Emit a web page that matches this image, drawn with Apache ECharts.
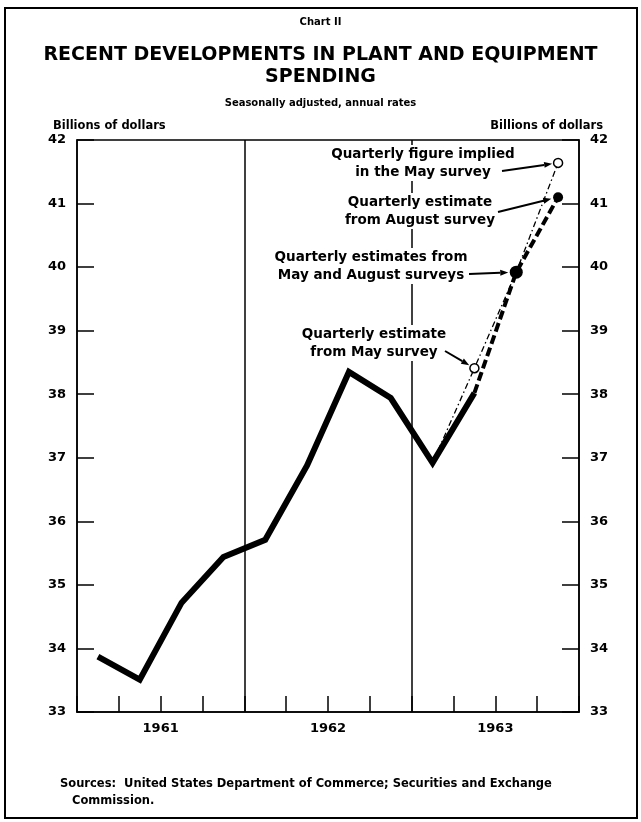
<!DOCTYPE html>
<html>
<head>
<meta charset="utf-8">
<script src="https://cdn.jsdelivr.net/npm/echarts@6/dist/echarts.min.js"></script>
<style>
  html, body { margin: 0; padding: 0; background: #fff; }
  #chart { width: 641px; height: 822px; }
</style>
</head>
<body>
<div id="chart"></div>
<script>
// quarterly points, 1961 Q1 .. 1963 Q4
const quarters = ['1961 Q1', '1961 Q2', '1961 Q3', '1961 Q4',
  '1962 Q1', '1962 Q2', '1962 Q3', '1962 Q4',
  '1963 Q1', '1963 Q2', '1963 Q3', '1963 Q4']
const years = ['1961', '1962', '1963']
const actual = [33.87, 33.51, 34.72, 35.44, 35.71, 36.88, 38.35, 37.94, 36.92, 38.02, null, null]
const augustSurvey = [null, null, null, null, null, null, null, null, null, 38.02, 39.92, 41.10]
const maySurvey = [null, null, null, null, null, null, null, null, 36.92, 38.41, 39.92, 41.64]
const yMin = 33
const yMax = 42

const font = '"DejaVu Sans", Verdana, sans-serif'

const chart = echarts.init(document.getElementById('chart'))

// value on the x axis = middle of the quarter
const toPoints = (arr) => arr.map((v, i) => (v == null ? null : [i + 0.5, v]))

const solidData = toPoints(actual).filter(Boolean)

const augustData = toPoints(augustSurvey).filter(Boolean).map((p, i, all) => {
  if (i === 0) return { value: p, symbol: 'none' }
  if (i === all.length - 1) return { value: p, symbol: 'circle', symbolSize: 10 }
  return { value: p, symbol: 'circle', symbolSize: 13 }
})

const mayData = toPoints(maySurvey).filter(Boolean).map((p, i) => {
  if (i === 0 || i === 2) return { value: p, symbol: 'none' }
  return { value: p, symbol: 'circle', symbolSize: 9, itemStyle: { color: '#fff', borderColor: '#000', borderWidth: 1.5 } }
})

const yAxisBase = {
  type: 'value',
  min: yMin,
  max: yMax,
  interval: 1,
  axisLine: { show: true, lineStyle: { color: '#000', width: 1.5 } },
  axisTick: { show: true, inside: true, length: 17, lineStyle: { color: '#000', width: 1.5 } },
  axisLabel: { color: '#000', fontFamily: font, fontWeight: 'bold', fontSize: 13, margin: 11 },
  splitLine: { show: false },
}

const option = {
  animation: false,
  backgroundColor: '#fff',
  title: [
    { text: 'Chart II', left: 'center', top: 12, textStyle: { fontFamily: font, fontWeight: 'bold', fontSize: 10, color: '#000' } },
    {
      text: 'RECENT DEVELOPMENTS IN PLANT AND EQUIPMENT\nSPENDING', left: 'center', top: 39,
      textStyle: { fontFamily: font, fontWeight: 'bold', fontSize: 19, lineHeight: 22, color: '#000' }
    },
    { text: 'Seasonally adjusted, annual rates', left: 'center', top: 93, textStyle: { fontFamily: font, fontWeight: 'bold', fontSize: 10, color: '#000' } },
    { text: 'Billions of dollars', left: 48, top: 115, textStyle: { fontFamily: font, fontWeight: 'bold', fontSize: 11.5, color: '#000' } },
    { text: 'Billions of dollars', right: 33, top: 115, textStyle: { fontFamily: font, fontWeight: 'bold', fontSize: 11.5, color: '#000' } },
    {
      text: 'Sources:  United States Department of Commerce; Securities and Exchange\n   Commission.', left: 55, top: 771,
      textStyle: { fontFamily: font, fontWeight: 'bold', fontSize: 11.5, lineHeight: 17, color: '#000' }
    },
  ],
  grid: {
    left: 77, right: 62, top: 140, bottom: 110,
    show: true, borderColor: '#000', borderWidth: 1.5, backgroundColor: 'transparent'
  },
  xAxis: {
    type: 'value',
    min: 0,
    max: quarters.length,
    interval: 1,
    axisLine: { show: true, lineStyle: { color: '#000', width: 1.5 } },
    axisTick: { show: true, inside: true, length: 16, lineStyle: { color: '#000', width: 1.5 } },
    axisLabel: {
      color: '#000', fontFamily: font, fontWeight: 'bold', fontSize: 13, margin: 10,
      formatter: (v) => (v % 4 === 2 ? years[(v - 2) / 4] : '')
    },
    splitLine: { show: false },
  },
  yAxis: [
    Object.assign({}, yAxisBase, { position: 'left' }),
    Object.assign({}, yAxisBase, { position: 'right' }),
  ],
  series: [
    {
      name: 'actual',
      type: 'line',
      data: solidData,
      symbol: 'none',
      lineStyle: { color: '#000', width: 6, join: 'miter', cap: 'butt' },
      z: 3,
      markLine: {
        silent: true,
        symbol: ['none', 'none'],
        label: { show: false },
        lineStyle: { color: '#000', width: 1.5, type: 'solid' },
        data: [{ xAxis: 4 }, { xAxis: 8 }],
      },
    },
    {
      name: 'August survey',
      type: 'line',
      data: augustData,
      lineStyle: { color: '#000', width: 4, type: [9, 4], cap: 'butt' },
      itemStyle: { color: '#000' },
      z: 4,
    },
    {
      name: 'May survey',
      type: 'line',
      data: mayData,
      lineStyle: { color: '#000', width: 1.3, type: [6, 3, 1.5, 3] },
      itemStyle: { color: '#000' },
      z: 5,
    },
  ],
}
chart.setOption(option)

// notes with arrows pointing at the survey points
const notes = [
  { text: 'Quarterly figure implied\nin the May survey', x: 423, y: 145, from: [502, 171], series: maySurvey, idx: 11, gap: 6 },
  { text: 'Quarterly estimate\nfrom August survey', x: 420, y: 193, from: [498, 212], series: augustSurvey, idx: 11, gap: 7 },
  { text: 'Quarterly estimates from\nMay and August surveys', x: 371, y: 248, from: [469, 274], series: augustSurvey, idx: 10, gap: 8 },
  { text: 'Quarterly estimate\nfrom May survey', x: 374, y: 325, from: [445, 351], series: maySurvey, idx: 9, gap: 6 },
]

const graphics = [
  { type: 'rect', shape: { x: 5, y: 8, width: 632, height: 810 }, style: { fill: 'none', stroke: '#000', lineWidth: 2 }, z: 10 },
]
notes.forEach((n) => {
  const to = chart.convertToPixel({ gridIndex: 0 }, [n.idx + 0.5, n.series[n.idx]])
  const dx = to[0] - n.from[0]
  const dy = to[1] - n.from[1]
  const len = Math.sqrt(dx * dx + dy * dy)
  const ux = dx / len
  const uy = dy / len
  const tip = [to[0] - ux * n.gap, to[1] - uy * n.gap]
  const base = [tip[0] - ux * 8, tip[1] - uy * 8]
  graphics.push({
    type: 'text', x: n.x, y: n.y, z: 20,
    style: {
      text: n.text, fill: '#000', font: 'bold 13.5px ' + font, align: 'center', lineHeight: 18,
      backgroundColor: '#fff', padding: [0, 2]
    }
  })
  graphics.push({
    type: 'line', z: 20,
    shape: { x1: n.from[0], y1: n.from[1], x2: base[0], y2: base[1] },
    style: { stroke: '#000', lineWidth: 2 }
  })
  graphics.push({
    type: 'polygon', z: 20,
    shape: { points: [tip, [base[0] - uy * 3, base[1] + ux * 3], [base[0] + uy * 3, base[1] - ux * 3]] },
    style: { fill: '#000' }
  })
})
chart.setOption({ graphic: graphics })
</script>
</body>
</html>
